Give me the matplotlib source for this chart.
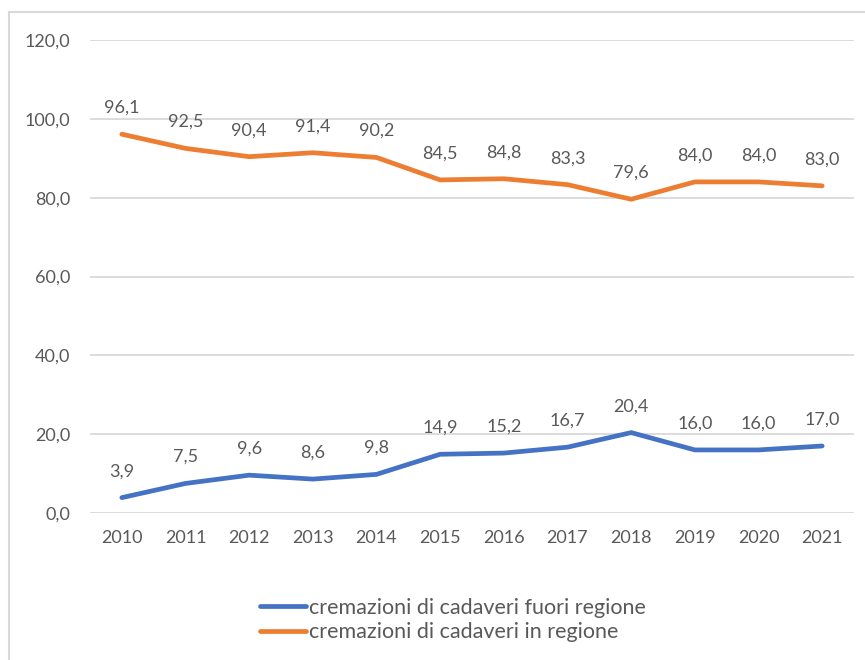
import matplotlib
matplotlib.use("Agg")
import matplotlib.pyplot as plt
from matplotlib.lines import Line2D

years = ["2010", "2011", "2012", "2013", "2014", "2015", "2016", "2017", "2018", "2019", "2020", "2021"]
fuori = [3.9, 7.5, 9.6, 8.6, 9.8, 14.9, 15.2, 16.7, 20.4, 16.0, 16.0, 17.0]
in_reg = [96.1, 92.5, 90.4, 91.4, 90.2, 84.5, 84.8, 83.3, 79.6, 84.0, 84.0, 83.0]
labels = ["cremazioni di cadaveri fuori regione", "cremazioni di cadaveri in regione"]
yticks = [0, 20, 40, 60, 80, 100, 120]

plt.rcParams['font.family'] = ['Lato', 'DejaVu Sans']
txt = '#595959'
grid = '#D9D9D9'

fig = plt.figure(figsize=(8.65, 6.6), dpi=100)
ax = fig.add_axes([90/865, 1-513/660, (854-90)/865, (513-40)/660])

x = list(range(len(years)))
ax.plot(x, fuori, color='#4472C4', lw=3.4, solid_capstyle='round', solid_joinstyle='round', label=labels[0], zorder=3)
ax.plot(x, in_reg, color='#ED7D31', lw=3.4, solid_capstyle='round', solid_joinstyle='round', label=labels[1], zorder=3)

for xs, vals in ((x, fuori), (x, in_reg)):
    for xi, v in zip(xs, vals):
        ax.annotate(f"{v:.1f}".replace('.', ','), (xi, v), xytext=(0, 19), textcoords='offset points',
                    ha='center', va='center', fontsize=13, color=txt)

ax.set_xlim(-0.5, len(years) - 0.5)
ax.set_ylim(0, 120)
ax.set_yticks(yticks)
ax.set_yticklabels([f"{t:.1f}".replace('.', ',') for t in yticks])
ax.set_xticks(x)
ax.set_xticklabels(years)
ax.tick_params(axis='both', length=0, labelsize=13, labelcolor=txt)
ax.tick_params(axis='y', pad=14)
ax.tick_params(axis='x', pad=12)
ax.yaxis.grid(True, color=grid, lw=1.3)
ax.set_axisbelow(True)
for s in ax.spines.values():
    s.set_visible(False)

# chart border
fig.add_artist(Line2D([9/865, 9/865], [0, 1-12/660], transform=fig.transFigure, color=grid, lw=1.5))
fig.add_artist(Line2D([9/865, 1], [1-12/660, 1-12/660], transform=fig.transFigure, color=grid, lw=1.5))

leg = fig.legend(loc='center', bbox_to_anchor=(453/865, 1-620/660), frameon=False, fontsize=15.5,
                 handlelength=2.1, handletextpad=0.15, labelspacing=0.2, labelcolor=txt)

fig.savefig("out.png", dpi=100)
